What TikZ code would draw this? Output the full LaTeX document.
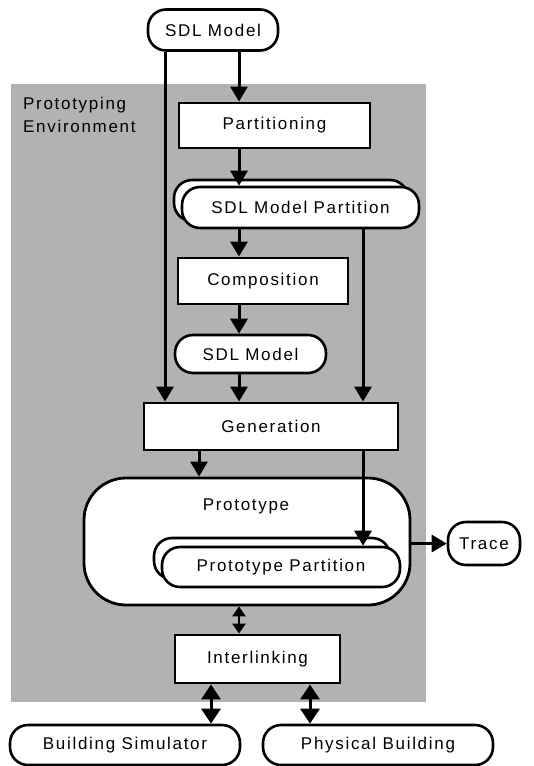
\documentclass[tikz,border=0pt]{standalone}
\usepackage{fontspec}
\setmainfont{Liberation Sans}[LetterSpace=10]
\usetikzlibrary{arrows.meta}
\begin{document}
\begin{tikzpicture}[x=1pt,y=-1pt,
  every node/.style={font=\fontsize{17}{23}\selectfont, inner sep=0pt},
  box/.style={draw, line width=2.9pt, fill=white, minimum width=#1},
  pill/.style={draw, line width=2.6pt, fill=white, rounded corners=18pt, minimum width=#1},
  arr/.style={line width=3pt, -{Triangle[width=17pt,length=15pt]}},
  dbl/.style={line width=3pt, {Triangle[width=19pt,length=15pt]}-{Triangle[width=19pt,length=15pt]}},
  sdbl/.style={line width=2.8pt, {Triangle[width=13pt,length=10pt]}-{Triangle[width=13pt,length=10pt]}}]
  \useasboundingbox (0,0) rectangle (534,766);
  % environment area
  \fill[black!30] (11,84) rectangle (426,702);
  \node[anchor=north west, align=left] (envlabel) at (23,97) {Prototyping\\Environment};

  % vertical tracks of the connectors
  \coordinate (xa) at (165,0);
  \coordinate (xb) at (239,0);
  \coordinate (xc) at (363,0);
  \coordinate (xd) at (199,0);
  \coordinate (xe) at (211,0);
  \coordinate (xf) at (310,0);

  % nodes
  \node[pill=130, minimum height=41] (sdlA) at (213,30) {SDL Model};
  \node[box=191, minimum height=45] (part) at (274.5,125.5) {Partitioning};
  \node[pill=234, minimum height=41] (smpB) at (291,200.5) {};
  \node[pill=237, minimum height=41] (smp) at (300.5,207.5) {SDL Model Partition};
  \node[box=170, minimum height=46] (comp) at (263,281) {Composition};
  \node[pill=151, minimum height=38] (sdlB) at (250.5,354) {SDL Model};
  \node[box=254, minimum height=47] (gen) at (271,426.5) {Generation};
  \node[draw, line width=2.8pt, fill=white, rounded corners=42pt,
        minimum width=326, minimum height=127] (proto) at (247,541.5) {};
  \node (protolabel) at (246,506) {Prototype};
  \node[pill=236, minimum height=41] (ppB) at (272,558.5) {};
  \node[pill=238, minimum height=40] (pp) at (281,567) {Prototype Partition};
  \node[pill=72, minimum height=43] (trace) at (484,543.5) {Trace};
  \node[box=165, minimum height=48] (inter) at (257.5,659) {Interlinking};
  \node[pill=230, minimum height=40] (bsim) at (125,745) {Building Simulator};
  \node[pill=230, minimum height=40] (pbuild) at (378,745) {Physical Building};

  % connectors
  \draw[arr] (sdlA.south -| xb) -- (part.north -| xb);
  \draw[arr] (sdlA.south -| xa) -- (gen.north -| xa);
  \draw[arr] (part.south -| xb) -- (smp.north -| xb);
  \draw[arr] (smp.south -| xb) -- (comp.north -| xb);
  \draw[arr] (smp.south -| xc) -- (gen.north -| xc);
  \draw[arr] (comp.south -| xb) -- (sdlB.north -| xb);
  \draw[arr] (sdlB.south -| xb) -- (gen.north -| xb);
  \draw[arr] (gen.south -| xd) -- (proto.north -| xd);
  \draw[arr] (gen.south -| xc) -- (pp.north -| xc);
  \draw[arr] (proto.east |- trace.west) -- (trace.west);
  \draw[sdbl] (proto.south -| xb) -- (inter.north -| xb);
  \draw[dbl] (inter.south -| xe) -- (bsim.north -| xe);
  \draw[dbl] (inter.south -| xf) -- (pbuild.north -| xf);
\end{tikzpicture}
\end{document}
